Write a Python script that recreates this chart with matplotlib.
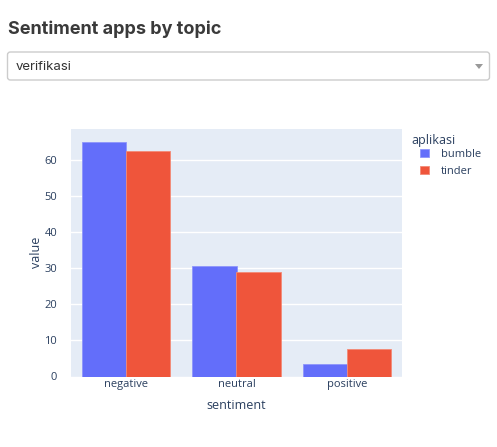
import numpy as np
import matplotlib
matplotlib.use('Agg')
import matplotlib.pyplot as plt
from matplotlib.patches import FancyBboxPatch, Polygon

# ── Data ──
sentiments = ["negative", "neutral", "positive"]
apps = ["bumble", "tinder"]
bumble_vals = [65.2, 30.6, 3.6]
tinder_vals = [62.7, 29.0, 7.7]
yticks = [0, 10, 20, 30, 40, 50, 60]
topic = "verifikasi"

COLORS = {"bumble": "#636EFA", "tinder": "#EF553B"}
EDGES = {"bumble": "#8E95FB", "tinder": "#F38A76"}
TXT = "#2a3f5f"

plt.rcParams['font.family'] = ['Open Sans', 'DejaVu Sans']

W, H = 497, 447
fig = plt.figure(figsize=(W / 100, H / 100), dpi=100)

# ── Header: title + dropdown ──
fig.text(8 / W, 1 - 29 / H, "Sentiment apps by topic", fontsize=13,
         fontweight="bold", color="#3a3a3a", va="center", ha="left",
         family=["Inter", "DejaVu Sans"])

box = FancyBboxPatch((7.5 / W, 1 - 80 / H), 482 / W, 28 / H,
                     boxstyle="round,pad=0,rounding_size=0.006",
                     transform=fig.transFigure, facecolor="white",
                     edgecolor="#cccccc", linewidth=1)
fig.patches.append(box)
fig.text(16 / W, 1 - 66.5 / H, topic, fontsize=9.5, color="#333333",
         va="center", ha="left", family=["Inter", "DejaVu Sans"])
tri = Polygon([(475 / W, 1 - 64 / H), (483 / W, 1 - 64 / H),
               (479 / W, 1 - 69 / H)], closed=True,
              transform=fig.transFigure, facecolor="#999999",
              edgecolor="none")
fig.patches.append(tri)

# ── Bar chart ──
ax = fig.add_axes([71 / W, 1 - 376.5 / H, 331 / W, 247.5 / H])
ax.set_facecolor("#E5ECF6")
x = np.arange(len(sentiments))
w = 0.4
ax.bar(x - w / 2, bumble_vals, w, color=COLORS["bumble"],
       edgecolor=EDGES["bumble"], linewidth=0.6, label="bumble", zorder=3)
ax.bar(x + w / 2, tinder_vals, w, color=COLORS["tinder"],
       edgecolor=EDGES["tinder"], linewidth=0.6, label="tinder", zorder=3)

ax.set_xlim(-0.5, 2.5)
ax.set_ylim(0, 68.7)
ax.set_xticks(x)
ax.set_xticklabels(sentiments)
ax.set_yticks(yticks)
ax.grid(axis="y", color="white", linewidth=1, zorder=0)
ax.set_axisbelow(True)
for s in ax.spines.values():
    s.set_visible(False)
ax.tick_params(axis="both", length=0, labelsize=8, colors=TXT)
ax.tick_params(axis="x", pad=1.5)
ax.tick_params(axis="y", pad=10)
ax.set_xlabel("sentiment", fontsize=9, color=TXT, labelpad=7)
ax.set_ylabel("value", fontsize=9, color=TXT, labelpad=1)

# legend: title as separate text so the entries can be indented
fig.text(411 / W, 1 - 140 / H, "aplikasi", fontsize=9, color=TXT,
         va="center", ha="left")
leg = ax.legend(loc="upper left", bbox_to_anchor=(420 / W, 1 - 148.5 / H),
                bbox_transform=fig.transFigure, frameon=False, fontsize=8,
                handlelength=0.8, handleheight=0.8, borderpad=0,
                borderaxespad=0, labelspacing=0.55, handletextpad=1.1)
for t in leg.get_texts():
    t.set_color(TXT)

plt.savefig("out.png", dpi=100)
plt.close()
